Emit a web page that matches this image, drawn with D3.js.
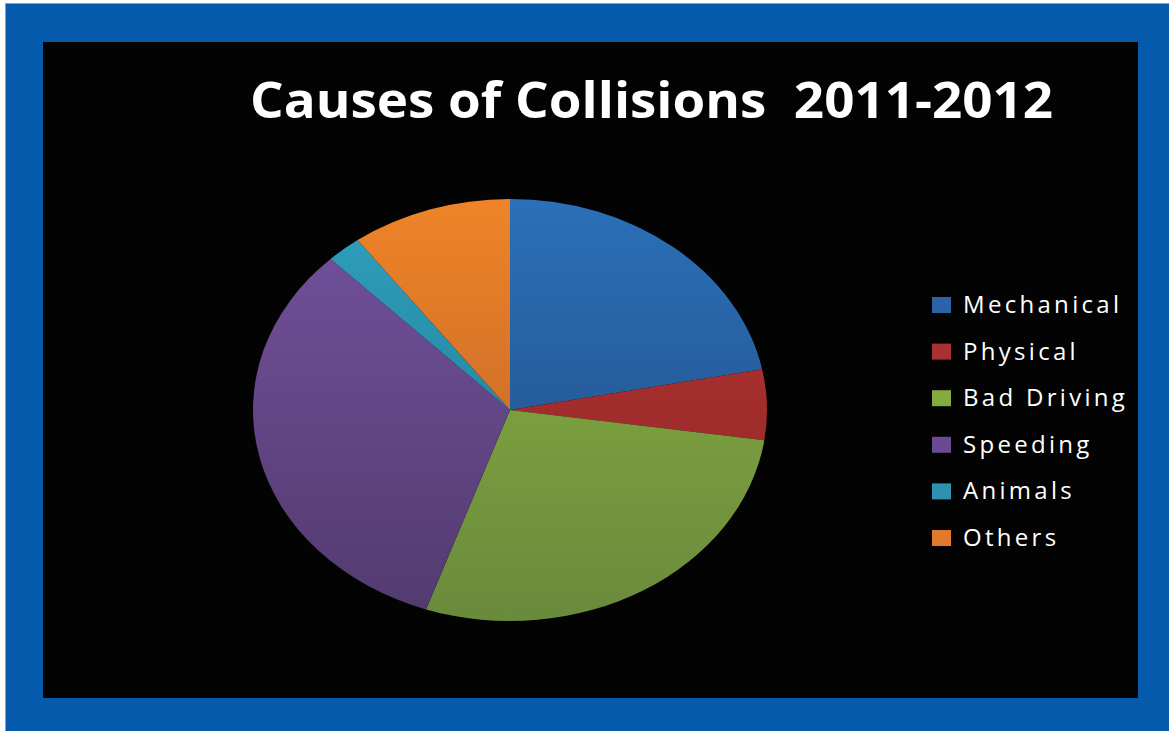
<!DOCTYPE html>
<html>
<head>
<meta charset="utf-8">
<script src="https://cdn.jsdelivr.net/npm/d3@7"></script>
<style>
  html, body { margin: 0; padding: 0; background: #ffffff; }
  svg { display: block; }
</style>
</head>
<body>
<div id="chart"></div>
<script>
// chart data
const categories = ["Mechanical", "Physical", "Bad Driving", "Speeding", "Animals", "Others"];
const values = [21.9, 5.4, 28.0, 32.4, 2.2, 10.1];
const topColors = ["#2b70b8", "#b53535", "#8cb242", "#74529f", "#30a0bd", "#ef8427"];
const bottomColors = ["#20497f", "#8f2424", "#6a8a3c", "#523a6e", "#1c7690", "#b65e2a"];
const legendColors = ["#2c62a6", "#a83232", "#84aa40", "#6a4a92", "#2b93b0", "#e07a2a"];
const title = "Causes of Collisions  2011-2012";

const width = 1169, height = 731;

const svg = d3.select("#chart")
    .append("svg")
    .attr("width", width)
    .attr("height", height);

// frame: thin grey line, blue band, black panel
svg.append("rect")
    .attr("x", 5.5).attr("y", 3.5)
    .attr("width", width).attr("height", height)
    .attr("fill", "#055aab")
    .attr("stroke", "#9a9a9a")
    .attr("stroke-width", 1);

svg.append("rect")
    .attr("x", 43).attr("y", 42)
    .attr("width", 1095).attr("height", 656)
    .attr("fill", "#030303");

svg.append("text")
    .attr("x", 250)
    .attr("y", 118)
    .attr("textLength", 803)
    .attr("lengthAdjust", "spacingAndGlyphs")
    .style("white-space", "pre")
    .style("font-family", "'Open Sans', sans-serif")
    .style("font-weight", "bold")
    .style("font-size", "50px")
    .style("fill", "#ffffff")
    .text(title);

// pie drawn as a circle of radius ry, stretched horizontally
const cx = 510, cy = 410, rx = 257, ry = 211;

const defs = svg.append("defs");
categories.forEach((c, i) => {
    const g = defs.append("linearGradient")
        .attr("id", "grad" + i)
        .attr("gradientUnits", "userSpaceOnUse")
        .attr("x1", 0).attr("y1", -ry)
        .attr("x2", 0).attr("y2", ry);
    g.append("stop").attr("offset", "0%").attr("stop-color", topColors[i]);
    g.append("stop").attr("offset", "100%").attr("stop-color", bottomColors[i]);
});

const pie = d3.pie().sort(null).value(d => d)(values);
const arc = d3.arc().innerRadius(0).outerRadius(ry);

const pieG = svg.append("g")
    .attr("transform", `translate(${cx},${cy}) scale(${rx / ry},1)`);

pieG.selectAll("path")
    .data(pie)
    .enter().append("path")
    .attr("d", arc)
    .attr("fill", (d, i) => `url(#grad${i})`);

// legend
const legendY = d3.scalePoint()
    .domain(categories)
    .range([305, 538]);

const legend = svg.append("g")
    .selectAll("g")
    .data(categories)
    .enter().append("g")
    .attr("transform", d => `translate(932,${legendY(d)})`);

legend.append("rect")
    .attr("x", 0).attr("y", -8)
    .attr("width", 19).attr("height", 16)
    .attr("fill", (d, i) => legendColors[i]);

legend.append("text")
    .attr("x", 31)
    .attr("y", 8)
    .style("font-family", "'Open Sans', sans-serif")
    .style("font-size", "24px")
    .style("letter-spacing", "3.3px")
    .style("fill", "#ffffff")
    .text(d => d);
</script>
</body>
</html>
